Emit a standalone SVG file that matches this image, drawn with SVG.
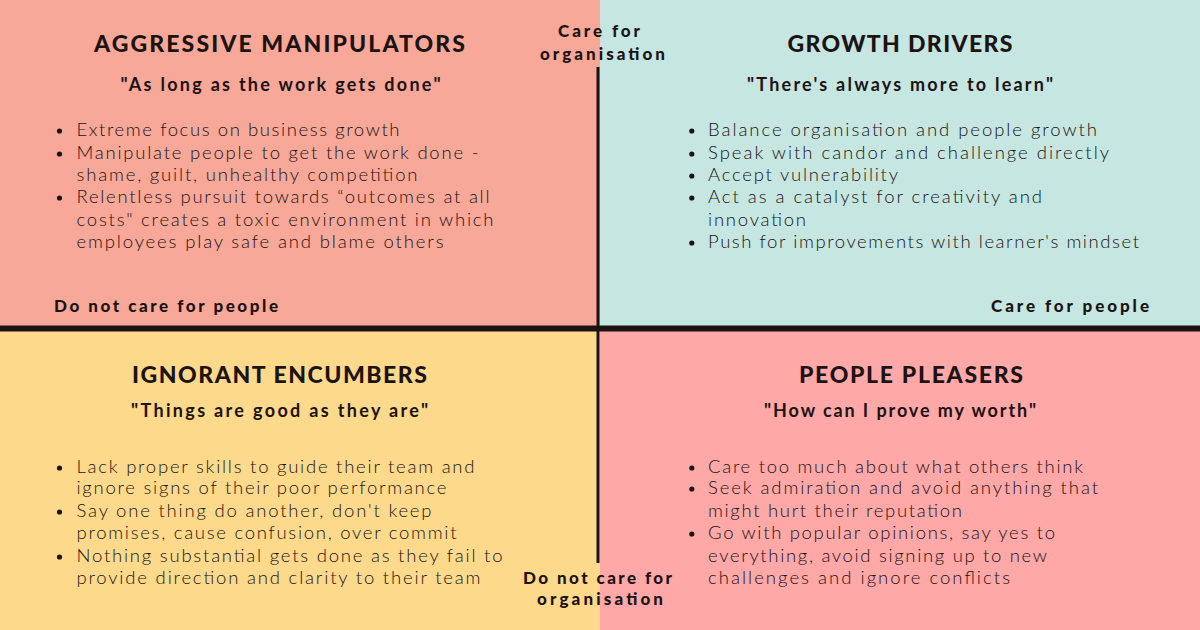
<svg xmlns="http://www.w3.org/2000/svg" width="1200" height="630" viewBox="0 0 1200 630">
  <style>
    text { fill: #1c1313; }
    .title { font-family: "Lato", "Liberation Sans", sans-serif; font-weight: 900; font-size: 23px; }
    .quote { font-family: "Lato", "Liberation Sans", sans-serif; font-weight: 700; font-size: 18px; }
    .axis  { font-family: "Lato", "Liberation Sans", sans-serif; font-weight: 900; font-size: 17px; }
    .body  { font-family: "Lato", "Liberation Sans", sans-serif; font-weight: 300; font-size: 18.5px; }
    .dot   { fill: #1c1313; }
  </style>

  <!-- quadrant backgrounds -->
  <rect x="0" y="0" width="600" height="327" fill="#F7A898"/>
  <rect x="600" y="0" width="600" height="327" fill="#C5E6E1"/>
  <rect x="0" y="327" width="600" height="303" fill="#FDD98C"/>
  <rect x="600" y="327" width="600" height="303" fill="#FEA8A8"/>

  <!-- axes -->
  <g id="axes">
    <rect x="0" y="325.5" width="1200" height="6" fill="#1c1313"/>
    <rect x="596.5" y="67" width="3" height="496" fill="#1c1313"/>
  </g>

  <!-- axis labels -->
  <g id="axis-labels">
    <text class="axis" x="558" y="37" textLength="82" lengthAdjust="spacing">Care for</text>
    <text class="axis" x="540" y="60" textLength="125" lengthAdjust="spacing">organisation</text>
    <text class="axis" x="523" y="584" textLength="149" lengthAdjust="spacing">Do not care for</text>
    <text class="axis" x="537" y="605" textLength="126" lengthAdjust="spacing">organisation</text>
    <text class="axis" x="54" y="312" textLength="224" lengthAdjust="spacing">Do not care for people</text>
    <text class="axis" x="991" y="312" textLength="158" lengthAdjust="spacing">Care for people</text>
  </g>

  <!-- top-left quadrant -->
  <g id="aggressive-manipulators">
    <text class="title" x="94" y="52" textLength="371" lengthAdjust="spacing">AGGRESSIVE MANIPULATORS</text>
    <text class="quote" x="120.5" y="91" textLength="320" lengthAdjust="spacing">"As long as the work gets done"</text>
    <circle class="dot" cx="59.5" cy="131" r="2.6"/>
    <circle class="dot" cx="59.5" cy="154" r="2.6"/>
    <circle class="dot" cx="59.5" cy="198" r="2.6"/>
    <text class="body" x="76.5" y="136" textLength="323" lengthAdjust="spacing">Extreme focus on business growth</text>
    <text class="body" x="76.5" y="159" textLength="402" lengthAdjust="spacing">Manipulate people to get the work done -</text>
    <text class="body" x="76.5" y="181" textLength="341" lengthAdjust="spacing">shame, guilt, unhealthy competition</text>
    <text class="body" x="76.5" y="203" textLength="413" lengthAdjust="spacing">Relentless pursuit towards “outcomes at all</text>
    <text class="body" x="76.5" y="226" textLength="417" lengthAdjust="spacing">costs" creates a toxic environment in which</text>
    <text class="body" x="76.5" y="248" textLength="367" lengthAdjust="spacing">employees play safe and blame others</text>
  </g>

  <!-- top-right quadrant -->
  <g id="growth-drivers">
    <text class="title" x="787.5" y="52" textLength="225" lengthAdjust="spacing">GROWTH DRIVERS</text>
    <text class="quote" x="747" y="91" textLength="306" lengthAdjust="spacing">"There's always more to learn"</text>
    <circle class="dot" cx="691.8" cy="131" r="2.6"/>
    <circle class="dot" cx="691.8" cy="154" r="2.6"/>
    <circle class="dot" cx="691.8" cy="176" r="2.6"/>
    <circle class="dot" cx="691.8" cy="198" r="2.6"/>
    <circle class="dot" cx="691.8" cy="243" r="2.6"/>
    <text class="body" x="708" y="136" textLength="389" lengthAdjust="spacing">Balance organisation and people growth</text>
    <text class="body" x="708" y="159" textLength="401" lengthAdjust="spacing">Speak with candor and challenge directly</text>
    <text class="body" x="708" y="181" textLength="190" lengthAdjust="spacing">Accept vulnerability</text>
    <text class="body" x="708" y="203" textLength="334" lengthAdjust="spacing">Act as a catalyst for creativity and</text>
    <text class="body" x="708" y="226" textLength="98" lengthAdjust="spacing">innovation</text>
    <text class="body" x="708" y="248" textLength="431" lengthAdjust="spacing">Push for improvements with learner's mindset</text>
  </g>

  <!-- bottom-left quadrant -->
  <g id="ignorant-encumbers">
    <text class="title" x="132" y="383" textLength="295" lengthAdjust="spacing">IGNORANT ENCUMBERS</text>
    <text class="quote" x="131" y="417" textLength="297" lengthAdjust="spacing">"Things are good as they are"</text>
    <circle class="dot" cx="59.5" cy="468" r="2.6"/>
    <circle class="dot" cx="59.5" cy="512" r="2.6"/>
    <circle class="dot" cx="59.5" cy="557" r="2.6"/>
    <text class="body" x="76.5" y="473" textLength="398" lengthAdjust="spacing">Lack proper skills to guide their team and</text>
    <text class="body" x="76.5" y="494" textLength="370" lengthAdjust="spacing">ignore signs of their poor performance</text>
    <text class="body" x="76.5" y="517" textLength="355" lengthAdjust="spacing">Say one thing do another, don't keep</text>
    <text class="body" x="76.5" y="539" textLength="380" lengthAdjust="spacing">promises, cause confusion, over commit</text>
    <text class="body" x="76.5" y="562" textLength="426" lengthAdjust="spacing">Nothing substantial gets done as they fail to</text>
    <text class="body" x="76.5" y="584" textLength="404" lengthAdjust="spacing">provide direction and clarity to their team</text>
  </g>

  <!-- bottom-right quadrant -->
  <g id="people-pleasers">
    <text class="title" x="799" y="383" textLength="224" lengthAdjust="spacing">PEOPLE PLEASERS</text>
    <text class="quote" x="764" y="417" textLength="272" lengthAdjust="spacing">"How can I prove my worth"</text>
    <circle class="dot" cx="691.8" cy="468" r="2.6"/>
    <circle class="dot" cx="691.8" cy="489" r="2.6"/>
    <circle class="dot" cx="691.8" cy="534" r="2.6"/>
    <text class="body" x="708" y="473" textLength="375" lengthAdjust="spacing">Care too much about what others think</text>
    <text class="body" x="708" y="494" textLength="390" lengthAdjust="spacing">Seek admiration and avoid anything that</text>
    <text class="body" x="708" y="517" textLength="254" lengthAdjust="spacing">might hurt their reputation</text>
    <text class="body" x="708" y="539" textLength="347" lengthAdjust="spacing">Go with popular opinions, say yes to</text>
    <text class="body" x="708" y="562" textLength="339" lengthAdjust="spacing">everything, avoid signing up to new</text>
    <text class="body" x="708" y="584" textLength="302" lengthAdjust="spacing">challenges and ignore conflicts</text>
  </g>
</svg>
